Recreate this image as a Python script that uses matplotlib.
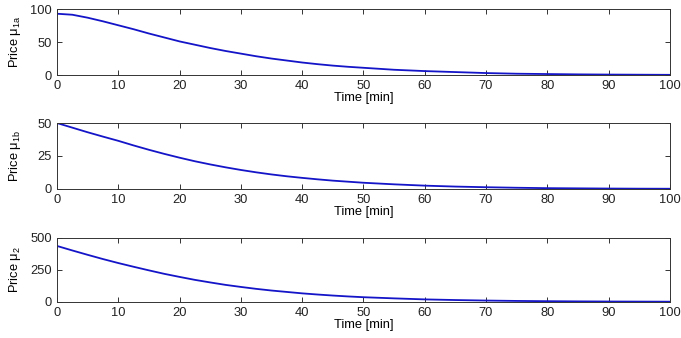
import matplotlib
matplotlib.use('Agg')
import matplotlib.pyplot as plt

plt.rcParams['font.family'] = ['Liberation Sans', 'DejaVu Sans']
plt.rcParams['mathtext.fontset'] = 'custom'
plt.rcParams['mathtext.rm'] = 'Liberation Sans'
plt.rcParams['mathtext.it'] = 'Liberation Sans'

# time grid (minutes)
time = [0, 2.5, 5, 7.5, 10, 12.5, 15, 17.5, 20, 22.5, 25, 27.5, 30, 32.5, 35, 37.5,
        40, 42.5, 45, 47.5, 50, 55, 60, 65, 70, 75, 80, 85, 90, 95, 100]

# price trajectories
mu_1a = [93, 91.5, 87, 81.5, 75.5, 69.5, 63, 57, 51, 46, 41, 36.5, 32.5, 28.5, 25, 22,
         19, 16.5, 14.3, 12.5, 11, 8, 6, 4.5, 3, 2, 1.5, 1, 0.7, 0.5, 0.3]
mu_1b = [50, 46.5, 43, 39.7, 36.5, 33, 29.7, 26.6, 23.7, 21, 18.6, 16.4, 14.4, 12.6, 11, 9.6,
         8.4, 7.3, 6.3, 5.5, 4.7, 3.5, 2.5, 1.8, 1.3, 0.9, 0.6, 0.45, 0.3, 0.2, 0.15]
mu_2 = [435, 400, 366, 333, 302, 273, 245, 218, 194, 171, 151, 132, 116, 101, 88, 77,
        66, 57, 49, 42, 36, 27, 19, 14, 10, 7, 5, 3.5, 2.5, 1.8, 1.2]

panels = [
    (mu_1a, 'Price $\\mu_{1a}$', [0, 50, 100], 100),
    (mu_1b, 'Price $\\mu_{1b}$', [0, 25, 50], 50),
    (mu_2, 'Price $\\mu_{2}$', [0, 250, 500], 500),
]
positions = [
    [0.0837, 0.778, 0.900, 0.195],
    [0.0837, 0.441, 0.900, 0.195],
    [0.0837, 0.107, 0.900, 0.190],
]

fig = plt.figure(figsize=(6.81, 3.38), dpi=100)
for (vals, label, yticks, ymax), pos in zip(panels, positions):
    ax = fig.add_axes(pos)
    ax.plot(time, vals, color='#1414c8', linewidth=1.3)
    ax.set_xlim(0, 100)
    ax.set_ylim(0, ymax)
    ax.set_xticks(range(0, 101, 10))
    ax.set_yticks(yticks)
    ax.tick_params(direction='in', top=True, right=True, length=3.5, width=0.7,
                   labelsize=9.3, colors='#333333', labelcolor='#222222', pad=3.5)
    for s in ax.spines.values():
        s.set_linewidth(0.7)
        s.set_color('#333333')
    ax.set_xlabel('Time [min]', fontsize=9.3, labelpad=0)
    ax.set_ylabel(label, fontsize=9.3)
    ax.yaxis.set_label_coords(-0.056, 0.5)

fig.savefig('out.png', dpi=100, facecolor='white')
